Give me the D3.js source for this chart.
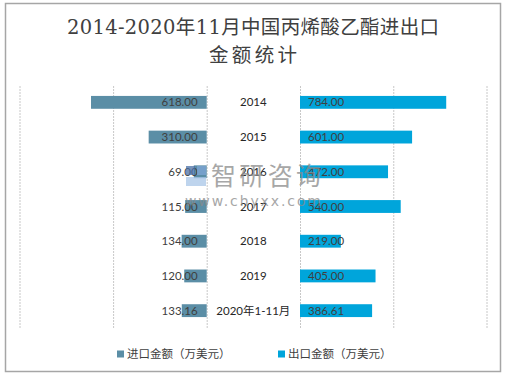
<!DOCTYPE html>
<html>
<head>
<meta charset="utf-8">
<script src="https://cdn.jsdelivr.net/npm/d3@7"></script>
<style>
  html, body { margin: 0; padding: 0; background: #fff; }
  #chart { width: 506px; height: 376px; }
</style>
</head>
<body>
<div id="chart"></div>
<script>
// 数据
const categories = ['2014', '2015', '2016', '2017', '2018', '2019', '2020年1-11月'];
const importValues = [618, 310, 69, 115, 134, 120, 133.16];
const exportValues = [784, 601, 472, 540, 219, 405, 386.61];
const gridTicks = [0, 500, 1000];
const seriesNames = ['进口金额（万美元）', '出口金额（万美元）'];
const colors = ['#5b8ea6', '#00a5db'];

const el = document.getElementById('chart');
const svg = d3.select(el)
    .append('svg')
    .attr('width', 506)
    .attr('height', 376);

// 外框
svg.append('rect')
    .attr('x', 5.5).attr('y', 3.5)
    .attr('width', 495).attr('height', 368)
    .attr('fill', '#fff')
    .attr('stroke', '#a6a6a6')
    .attr('stroke-width', 1.5);

// 标题
const title = svg.append('text')
    .attr('text-anchor', 'middle')
    .attr('fill', '#404040')
    .style('font-family', '"DejaVu Serif", "Noto Sans CJK SC", serif')
    .style('font-size', '19.5px');
title.append('tspan').attr('x', 253).attr('y', 34)
    .attr('textLength', 372).attr('lengthAdjust', 'spacing')
    .text('2014-2020年11月中国丙烯酸乙酯进出口');
title.append('tspan').attr('x', 253).attr('y', 62)
    .attr('textLength', 88).attr('lengthAdjust', 'spacing')
    .text('金额统计');

const plotTop = 85, plotBottom = 328;

// 尺度
const y = d3.scaleBand()
    .domain(categories)
    .range([plotTop, plotBottom])
    .paddingInner(0.63)
    .paddingOuter(0.315);
const xLeft = d3.scaleLinear().domain([0, 1000]).range([206.7, 19.5]);
const xRight = d3.scaleLinear().domain([0, 1000]).range([300, 486.5]);

// 网格线
[xLeft, xRight].forEach((sc) => {
    const g = svg.append('g')
        .attr('transform', `translate(0, ${plotBottom})`)
        .call(d3.axisBottom(sc).tickValues(gridTicks).tickSize(-(plotBottom - plotTop)).tickFormat(''));
    g.select('.domain').remove();
    g.selectAll('.tick line')
        .attr('stroke', '#c8c8c8')
        .attr('stroke-dasharray', '2,1');
});

// 进口 (左)
svg.append('g').selectAll('rect')
    .data(importValues)
    .join('rect')
    .attr('x', (d) => xLeft(d))
    .attr('y', (d, i) => y(categories[i]))
    .attr('width', (d) => xLeft(0) - xLeft(d))
    .attr('height', y.bandwidth())
    .attr('fill', colors[0]);

// 出口 (右)
svg.append('g').selectAll('rect')
    .data(exportValues)
    .join('rect')
    .attr('x', xRight(0))
    .attr('y', (d, i) => y(categories[i]))
    .attr('width', (d) => xRight(d) - xRight(0))
    .attr('height', y.bandwidth())
    .attr('fill', colors[1]);

const labelFont = 'Lato, "Noto Sans CJK SC", sans-serif';

// 数值标签
svg.append('g').selectAll('text')
    .data(importValues)
    .join('text')
    .attr('x', xLeft(0) - 9)
    .attr('y', (d, i) => y(categories[i]) + y.bandwidth() / 2)
    .attr('dy', '0.35em')
    .attr('text-anchor', 'end')
    .attr('fill', '#404040')
    .style('font-family', labelFont)
    .style('font-size', '11.5px')
    .text((d) => d.toFixed(2));

svg.append('g').selectAll('text')
    .data(exportValues)
    .join('text')
    .attr('x', xRight(0) + 8)
    .attr('y', (d, i) => y(categories[i]) + y.bandwidth() / 2)
    .attr('dy', '0.35em')
    .attr('fill', '#404040')
    .style('font-family', labelFont)
    .style('font-size', '11.5px')
    .text((d) => d.toFixed(2));

// 类别标签
svg.append('g').selectAll('text')
    .data(categories)
    .join('text')
    .attr('x', (xLeft(0) + xRight(0)) / 2)
    .attr('y', (d) => y(d) + y.bandwidth() / 2)
    .attr('dy', '0.35em')
    .attr('text-anchor', 'middle')
    .attr('fill', '#262626')
    .style('font-family', labelFont)
    .style('font-size', '11.5px')
    .text((d) => d);

// 水印
const wm = svg.append('g').attr('opacity', 0.75);
wm.append('rect').attr('x', 186).attr('y', 166).attr('width', 9).attr('height', 9).attr('fill', '#4a6fa5');
wm.append('rect').attr('x', 197).attr('y', 166).attr('width', 9).attr('height', 9).attr('fill', '#7fa7d6');
wm.append('rect').attr('x', 186).attr('y', 177).attr('width', 20).attr('height', 9).attr('fill', '#a9c6e8');
wm.append('text')
    .attr('x', 211).attr('y', 185)
    .attr('textLength', 110).attr('lengthAdjust', 'spacing')
    .attr('fill', '#8a8a8a')
    .style('font-family', '"Noto Sans CJK SC", sans-serif')
    .style('font-size', '25px')
    .text('智研咨询');
wm.append('text')
    .attr('x', 185).attr('y', 206)
    .attr('textLength', 136).attr('lengthAdjust', 'spacing')
    .attr('fill', '#8a8a8a')
    .style('font-family', '"DejaVu Sans", sans-serif')
    .style('font-size', '14px')
    .text('www.chyxx.com');

// 图例
const legendX = [117, 278];
const legend = svg.append('g').selectAll('g')
    .data(seriesNames)
    .join('g')
    .attr('transform', (d, i) => `translate(${legendX[i]}, 354)`);
legend.append('rect')
    .attr('x', 0).attr('y', -3.5)
    .attr('width', 7).attr('height', 7)
    .attr('fill', (d, i) => colors[i]);
legend.append('text')
    .attr('x', 10)
    .attr('dy', '0.35em')
    .attr('fill', '#404040')
    .style('font-family', '"Noto Sans CJK SC", sans-serif')
    .style('font-size', '11.5px')
    .text((d) => d);
</script>
</body>
</html>
